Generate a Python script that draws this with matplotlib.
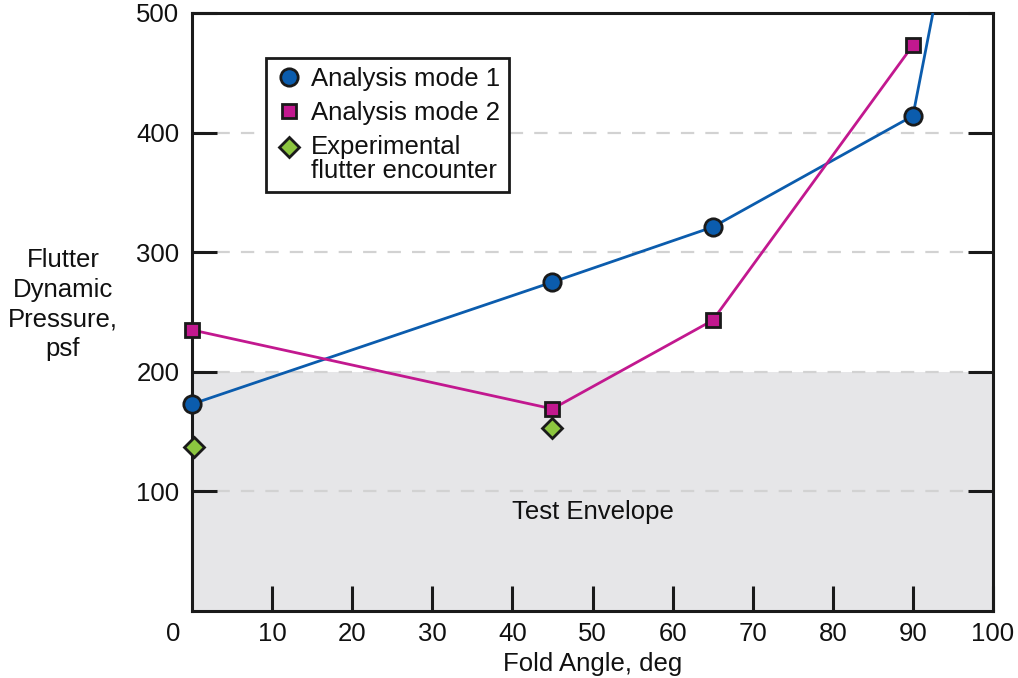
import matplotlib
matplotlib.use("Agg")
import numpy as np
import matplotlib.pyplot as plt
import matplotlib.transforms as mtrans
from matplotlib.lines import Line2D
from matplotlib.legend_handler import HandlerLine2D

plt.rcParams['font.family'] = ['Liberation Sans', 'DejaVu Sans']

# ---- data ----
mode1_x = [0, 45, 65, 90]
mode1_y = [173, 275, 321, 414]
mode1_ext_x = [90, 92.5]        # line continues off the top of the chart
mode1_ext_y = [414, 500]
mode2_x = [0, 45, 65, 90]
mode2_y = [235, 169, 243, 473]
exp_x = [0.3, 45]
exp_y = [137, 153]
envelope_top = 200
grid_levels = [100, 200, 300, 400]
x_ticks = [10, 20, 30, 40, 50, 60, 70, 80, 90, 100]
y_ticks = [100, 200, 300, 400, 500]

BLUE = '#0b5cad'
MAGENTA = '#c2188f'
GREEN = '#8cc63f'
SHADE = '#e6e6e8'
DARK = '#1a1a1a'
TXT = '#111111'
FS = 18.5

fig = plt.figure(figsize=(10.18, 6.78), dpi=100)
ax = fig.add_axes([192/1018, 1 - 611/678, (993-192)/1018, (611-13)/678])
ax.set_xlim(0, 100)
ax.set_ylim(0, 500)

# test envelope shading
ax.axhspan(0, envelope_top, color=SHADE, zorder=0, lw=0)
for g in grid_levels:
    ax.axhline(g, color='#d2d2d2', lw=1.6, dashes=(6, 5), zorder=1)

ax.text(50, 83, 'Test Envelope', ha='center', va='center', fontsize=FS, color=TXT, zorder=2)

# series
ax.plot(mode1_ext_x, mode1_ext_y, color=BLUE, lw=2.0, zorder=3, solid_capstyle='butt')
ax.plot(mode1_x, mode1_y, color=BLUE, lw=2.0, marker='o', ms=12.5,
        mfc=BLUE, mec=DARK, mew=2.0, zorder=4, clip_on=False)
ax.plot(mode2_x, mode2_y, color=MAGENTA, lw=2.0, marker='s', ms=10.5,
        mfc=MAGENTA, mec=DARK, mew=2.0, zorder=4, clip_on=False)
ax.plot(exp_x, exp_y, ls='none', marker='D', ms=10, mfc=GREEN, mec=DARK,
        mew=2.0, zorder=4, clip_on=False)

# spines and ticks
for s in ax.spines.values():
    s.set_linewidth(2.2)
    s.set_color(DARK)
ax.set_xticks(x_ticks)
ax.set_yticks(y_ticks)
ax.tick_params(axis='both', direction='in', length=18, width=2.2, color=DARK,
               labelsize=FS, labelcolor=TXT)
ax.tick_params(axis='x', pad=8)
ax.tick_params(axis='y', pad=9, right=True)
zero = ax.text(-2.4, 0, '0', ha='center', va='top', fontsize=FS, color=TXT)
zero.set_transform(ax.transData + mtrans.ScaledTranslation(0, -8/72, fig.dpi_scale_trans))

ax.set_xlabel('Fold Angle, deg', fontsize=FS, color=TXT, labelpad=4)
ax.set_ylabel('Flutter\nDynamic\nPressure,\npsf', fontsize=FS, rotation=0,
              ha='center', va='center', linespacing=1.3, color=TXT)
ax.yaxis.set_label_coords(-0.161, 0.512)


class ShiftHandler(HandlerLine2D):
    def __init__(self, dy=0, **kw):
        super().__init__(**kw)
        self.dy = dy

    def create_artists(self, legend, orig_handle, xdescent, ydescent, width,
                       height, fontsize, trans):
        arts = super().create_artists(legend, orig_handle, xdescent, ydescent,
                                      width, height, fontsize, trans)
        for a in arts:
            a.set_ydata(np.asarray(a.get_ydata(), dtype=float) + self.dy)
        return arts


h1 = Line2D([], [], ls='none', marker='o', ms=12.5, mfc=BLUE, mec=DARK, mew=2.0)
h2 = Line2D([], [], ls='none', marker='s', ms=10.5, mfc=MAGENTA, mec=DARK, mew=2.0)
h3 = Line2D([], [], ls='none', marker='D', ms=10, mfc=GREEN, mec=DARK, mew=2.0)
labels = ['Analysis mode 1', 'Analysis mode 2', 'Experimental\nflutter encounter']
leg = ax.legend([h1, h2, h3], labels, loc='upper left', bbox_to_anchor=(0.092, 0.924),
                fontsize=FS, frameon=True, fancybox=False, edgecolor=DARK,
                framealpha=1, borderpad=0.35, handletextpad=0.3, handlelength=1.1,
                labelspacing=0.38, borderaxespad=0,
                handler_map={h3: ShiftHandler(dy=9)})
for t in leg.get_texts():
    t.set_linespacing(1.0)
    t.set_color(TXT)
leg.get_frame().set_linewidth(2.0)
leg.set_zorder(5)

fig.savefig('out.png', dpi=100)
